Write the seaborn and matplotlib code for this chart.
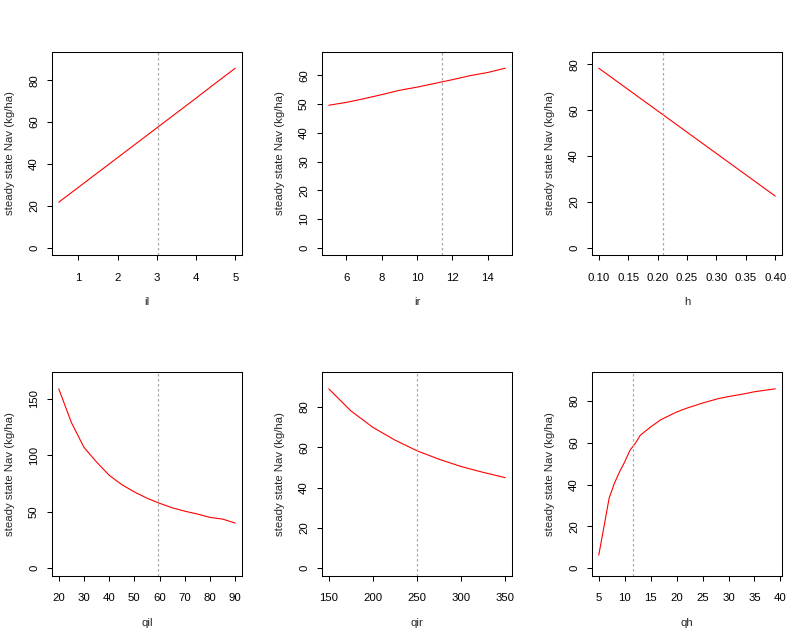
import numpy as np
import pandas as pd
import matplotlib
matplotlib.use("Agg")
import matplotlib.pyplot as plt
import seaborn as sns

sns.set_style("ticks")
plt.rcParams["font.family"] = ["Liberation Sans", "DejaVu Sans"]

# values (one small list per panel)
il_x = [0.5, 1.0, 1.5, 2.0, 2.5, 3.0, 3.5, 4.0, 4.5, 5.0]
il_y = [21.7, 28.8, 35.9, 43.0, 50.1, 57.2, 64.3, 71.4, 78.6, 85.7]

ir_x = [5, 6, 7, 8, 9, 10, 11, 12, 13, 14, 15]
ir_y = [49.6, 50.6, 51.9, 53.3, 54.8, 55.9, 57.2, 58.5, 59.9, 61.0, 62.5]

h_x = [0.10, 0.15, 0.20, 0.25, 0.30, 0.35, 0.40]
h_y = [78.3, 69.0, 59.7, 50.4, 41.1, 31.8, 22.5]

qil_x = [20, 25, 30, 35, 40, 45, 50, 55, 60, 65, 70, 75, 80, 85, 90]
qil_y = [158.8, 129.0, 107.0, 94.0, 82.3, 74.0, 67.5, 62.0, 57.5, 53.5, 50.5, 48.0, 45.0, 43.5, 40.0]

qir_x = [150, 175, 200, 225, 250, 275, 300, 325, 350]
qir_y = [88.9, 78.0, 69.8, 63.5, 58.2, 54.0, 50.4, 47.5, 44.9]

qh_x = [5, 6, 7, 8, 9, 10, 11, 12, 13, 15, 17, 20, 22, 25, 28, 30, 33, 35, 39]
qh_y = [6.3, 19.8, 33.5, 40.5, 46.0, 50.8, 56.3, 59.5, 63.5, 67.5, 71.0, 74.6, 76.5,
        78.9, 81.0, 82.0, 83.3, 84.3, 85.7]

# baseline parameter values (dotted verticals)
baselines = [3.03, 11.43, 0.21, 59.3, 250, 11.55]

x_names = ["il", "ir", "h", "qil", "qir", "qh"]
x_ticks = [
    [1, 2, 3, 4, 5],
    [6, 8, 10, 12, 14],
    [0.10, 0.15, 0.20, 0.25, 0.30, 0.35, 0.40],
    [20, 30, 40, 50, 60, 70, 80, 90],
    [150, 200, 250, 300, 350],
    [5, 10, 15, 20, 25, 30, 35, 40],
]
y_ticks = [
    [0, 20, 40, 60, 80],
    [0, 10, 20, 30, 40, 50, 60],
    [0, 20, 40, 60, 80],
    [0, 50, 100, 150],
    [0, 20, 40, 60, 80],
    [0, 20, 40, 60, 80],
]
series = [(il_x, il_y), (ir_x, ir_y), (h_x, h_y),
          (qil_x, qil_y), (qir_x, qir_y), (qh_x, qh_y)]

W, H = 809, 641
fig = plt.figure(figsize=(W / 100, H / 100), dpi=100)

lefts = [51.7, 321.7, 591.7]
tops = [51.7, 372.3]
aw, ah = 190.6, 203.5
fs = 8.2

for i, ((xs, ys), name) in enumerate(zip(series, x_names)):
    r, c = divmod(i, 3)
    ax = fig.add_axes([lefts[c] / W, 1 - (tops[r] + ah) / H, aw / W, ah / H])
    df = pd.DataFrame({name: xs, "Nav": ys})
    sns.lineplot(data=df, x=name, y="Nav", ax=ax, color="red", linewidth=0.8)
    ax.axvline(baselines[i], color="#a8a8a8", linestyle=(0, (2, 2)), linewidth=0.9)

    # R style limits: ylim = c(0, 1.05*max), 4% padding on both axes
    lo, hi = 0, 1.05 * max(ys)
    p = 0.04 * (hi - lo)
    ax.set_ylim(lo - p, hi + p)
    px = 0.04 * (max(xs) - min(xs))
    ax.set_xlim(min(xs) - px, max(xs) + px)

    ax.set_xticks(x_ticks[i])
    if name == "h":
        ax.set_xticklabels([f"{t:.2f}" for t in x_ticks[i]])
    ax.set_yticks(y_ticks[i])
    ax.tick_params(axis="both", direction="out", length=3.6, width=0.75,
                   labelsize=fs, colors="black")
    ax.tick_params(axis="x", pad=9)
    ax.tick_params(axis="y", pad=5.5, labelrotation=90)
    for lab in ax.get_yticklabels():
        lab.set_va("center")

    for s in ax.spines.values():
        s.set_visible(True)
        s.set_linewidth(0.75)
        s.set_color("black")

    ax.set_xlabel(name, fontsize=fs, va="center")
    ax.set_ylabel("steady state Nav (kg/ha)", fontsize=fs, va="center")
    ax.xaxis.set_label_coords(0.5, -47 / ah)
    ax.yaxis.set_label_coords(-41.7 / aw, 0.5)
    ax.grid(False)

fig.savefig("out.png", dpi=100, facecolor="white")
